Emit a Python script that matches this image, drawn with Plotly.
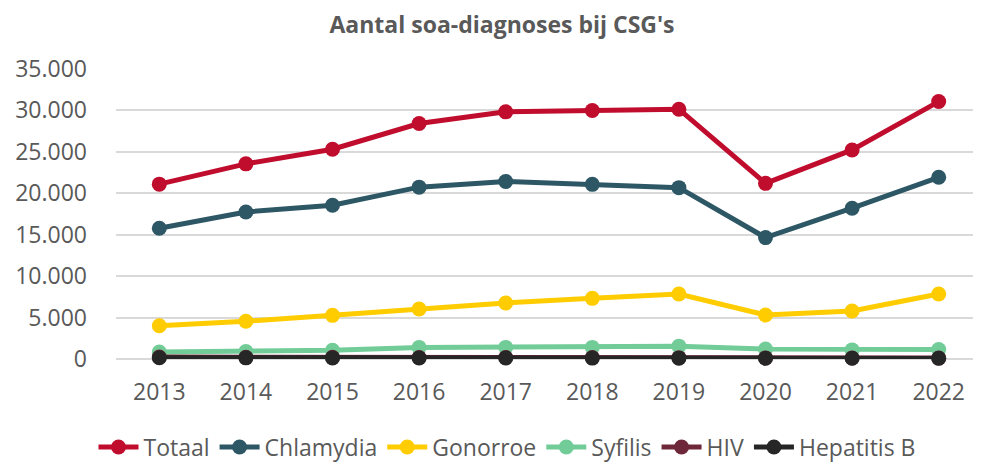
import plotly.graph_objects as go

years = ["2013", "2014", "2015", "2016", "2017", "2018", "2019", "2020", "2021", "2022"]
totaal = [21100, 23550, 25320, 28420, 29830, 29990, 30150, 21200, 25230, 31070]
chlamydia = [15780, 17750, 18560, 20740, 21420, 21080, 20680, 14650, 18200, 21930]
gonorroe = [4020, 4550, 5270, 6030, 6760, 7320, 7840, 5310, 5790, 7840]
syfilis = [850, 900, 1050, 1400, 1400, 1400, 1550, 1200, 1100, 1150]
hiv = [230, 210, 200, 190, 180, 170, 160, 130, 120, 110]
hepatitis_b = [150, 140, 130, 120, 120, 110, 100, 90, 90, 90]

series = [
    ("Totaal", totaal, "#C00D2E"),
    ("Chlamydia", chlamydia, "#2E5766"),
    ("Gonorroe", gonorroe, "#FFCC00"),
    ("Syfilis", syfilis, "#72CC98"),
    ("HIV", hiv, "#6E2639"),
    ("Hepatitis B", hepatitis_b, "#262626"),
]

fig = go.Figure()
for name, vals, color in series:
    fig.add_trace(go.Scatter(
        x=years, y=vals, name=name, mode="lines+markers",
        line=dict(color=color, width=5),
        marker=dict(color=color, size=15),
        cliponaxis=False,
    ))

grey = "#595959"
H = 463
W = 981
fig.update_layout(
    width=W, height=H,
    margin=dict(l=103, r=7, t=61, b=112),
    paper_bgcolor="white", plot_bgcolor="white",
    font=dict(family="Open Sans", size=23, color=grey),
    separators=",.",
    title=dict(text="<b>Aantal soa-diagnoses bij CSG's</b>", x=494 / W, xanchor="center",
               y=1 - 17 / H, yref="container", yanchor="middle",
               font=dict(family="Open Sans", size=23, color=grey)),
    showlegend=True,
    legend=dict(orientation="h", xref="container", x=499 / W, xanchor="center",
                yref="container", y=24 / H, yanchor="middle",
                font=dict(size=23, color=grey), itemwidth=40,
                tracegroupgap=0, bgcolor="rgba(0,0,0,0)"),
    xaxis=dict(type="category", range=[-0.5, 9.5], showgrid=False, showline=False,
               zeroline=False, ticks="", ticklabelstandoff=17,
               tickfont=dict(size=23, color=grey)),
    yaxis=dict(range=[0, 35000], dtick=5000, tickformat=",d", showgrid=True,
               gridcolor="#D9D9D9", gridwidth=1.5, zeroline=True, zerolinecolor="#D9D9D9",
               zerolinewidth=1.5, showline=False, ticks="", ticklabelstandoff=28,
               tickfont=dict(size=23, color=grey)),
)
fig.write_html("out.html")
